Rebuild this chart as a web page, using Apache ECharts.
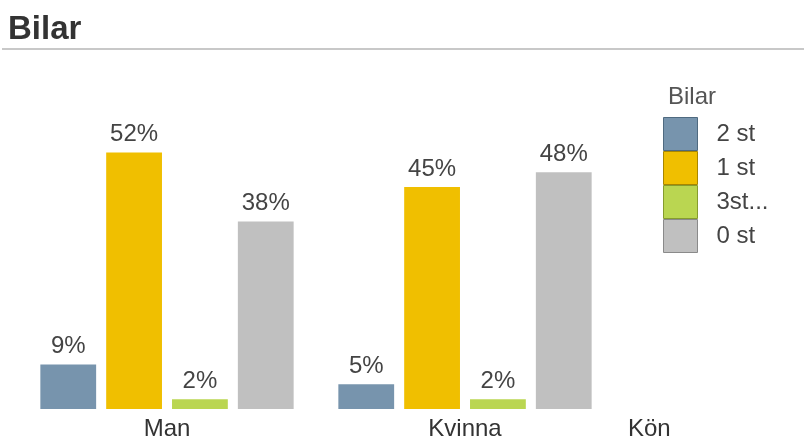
<!DOCTYPE html>
<html>
<head>
<meta charset="utf-8">
<script src="https://cdn.jsdelivr.net/npm/echarts@6/dist/echarts.min.js"></script>
<style>
  html, body { margin: 0; padding: 0; background: #ffffff; }
  #chart { width: 804px; height: 441px; }
</style>
</head>
<body>
<div id="chart"></div>
<script>
// Kön categories and car ownership shares (%)
var categories = ['Man', 'Kvinna'];
var seriesNames = ['2 st', '1 st', '3st...', '0 st'];
var values2st = [9, 5];
var values1st = [52, 45];
var values3st = [2, 2];
var values0st = [38, 48];

var colors = ['#7794ad', '#f0bf00', '#bad651', '#c0c0c0'];
var borders = ['#4f6a80', '#a88600', '#869c2e', '#8a8a8a'];
var seriesValues = [values2st, values1st, values3st, values0st];

var font = '"Liberation Sans", Arial, sans-serif';

var chart = echarts.init(document.getElementById('chart'), null, { renderer: 'canvas' });

var series = seriesNames.map(function (name, i) {
  return {
    name: name,
    type: 'bar',
    data: seriesValues[i],
    barGap: '18%',
    barCategoryGap: '15%',
    itemStyle: { color: colors[i] },
    label: {
      show: true,
      position: 'top',
      distance: 6,
      formatter: '{c}%',
      fontFamily: font,
      fontSize: 24,
      color: '#444444'
    },
    emphasis: { disabled: true }
  };
});

chart.setOption({
  animation: false,
  title: [
    {
      text: 'Bilar',
      left: 3,
      top: 8,
      textStyle: { fontFamily: font, fontSize: 33, fontWeight: 'bold', color: '#333333' }
    },
    {
      text: 'Bilar',
      left: 663,
      top: 80,
      textStyle: { fontFamily: font, fontSize: 24, fontWeight: 'normal', color: '#555555' }
    }
  ],
  graphic: [
    {
      type: 'line',
      shape: { x1: 2, y1: 49, x2: 804, y2: 49 },
      style: { stroke: '#c8c8c8', lineWidth: 2 }
    }
  ],
  legend: {
    data: seriesNames.map(function (n, i) {
      return { name: n, itemStyle: { color: colors[i], borderColor: borders[i], borderWidth: 1 } };
    }),
    orient: 'vertical',
    left: 663,
    top: 117,
    padding: 0,
    itemWidth: 34,
    itemHeight: 33,
    itemGap: 0,
    icon: 'rect',
    selectedMode: false,
    textStyle: { fontFamily: font, fontSize: 24, color: '#444444', padding: [0, 0, 0, 14] }
  },
  grid: { left: 18, right: 190, top: 113, bottom: 30, containLabel: false },
  xAxis: {
    type: 'category',
    data: categories,
    name: 'Kön',
    nameLocation: 'end',
    nameGap: 14,
    nameTextStyle: {
      fontFamily: font, fontSize: 24, color: '#333333',
      verticalAlign: 'top', padding: [8, 0, 0, 0]
    },
    axisLine: { show: false },
    axisTick: { show: false },
    axisLabel: { fontFamily: font, fontSize: 24, color: '#333333', margin: 8 }
  },
  yAxis: {
    type: 'value',
    min: 0,
    max: 60,
    show: false,
    splitLine: { show: false }
  },
  series: series
});
</script>
</body>
</html>
